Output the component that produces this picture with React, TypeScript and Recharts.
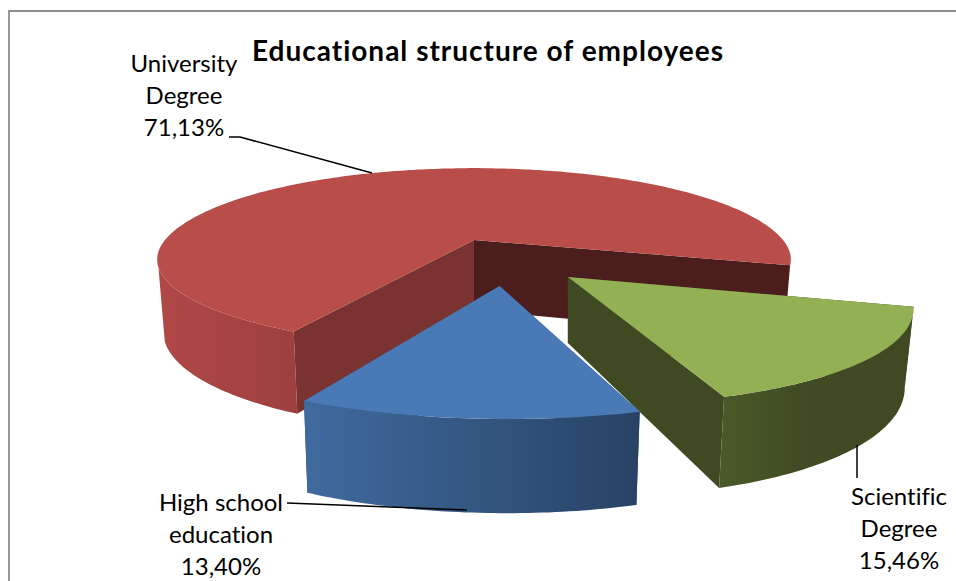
import { PieChart, Pie } from 'recharts';

const TITLE = 'Educational structure of employees';
const CATEGORIES = ['University Degree', 'Scientific Degree', 'High school education'];
const SHARES = [71.13, 15.46, 13.4];

// Tilted plate: TILT squashes the ground plane, PERSPECTIVE enlarges what is near the viewer
const WIDTH = 956;
const HEIGHT = 581;
const CX = 474;
const CY = 240;
const RADIUS = 309;
const TILT = 0.287;
const PERSPECTIVE = 0.234;
const FIRST_SLICE_ANGLE = -119.5;

const SLICE_STYLES = [
  { top: '#b84d4a', cut: ['#7b3331', '#4b1d1c'], wall: 'wallRed', offset: [0, 0], apexDepth: 70, scale: 1, flatten: 0.06 },
  { top: '#94b054', cut: ['#3f4a22', '#3f4a22'], wall: 'wallGreen', offset: [0.277, 0.38], apexDepth: 66, scale: 0.972, flatten: 0.06 },
  { top: '#4a7ab5', cut: ['#2d4a70', '#2d4a70'], wall: 'wallBlue', offset: [0.0735, 0.462], apexDepth: 74, scale: 1.01, flatten: 0.1 },
];

const LABEL_LINES = [['University', 'Degree'], ['Scientific', 'Degree'], ['High school', 'education']];
const LABEL_LAYOUT = [
  { x: 184, y: 72, leader: '229,137 240,137 372,173' },
  { x: 899, y: 505, leader: '857,445 857,478' },
  { x: 221, y: 511, leader: '287,503 467,510' },
];

const chartData = CATEGORIES.map((name, i) => ({ name, value: SHARES[i] }));
const FONT = 'Lato, sans-serif';

type Pt = { x: number; y: number };

function project(cx: number, cy: number, r: number, u: number, v: number): Pt {
  const w = 1 - PERSPECTIVE * v;
  return { x: cx + (r * u) / w, y: cy + (TILT * r * v) / w };
}

// Extrude a projected point downward; verticals converge slightly toward the plate centre
function drop(p: Pt, cx: number, cy: number, base: number): Pt {
  return { x: p.x - (p.x - cx) * 0.02, y: p.y + base + (p.y - cy) * 0.135 };
}

const toPath = (pts: Pt[]) =>
  'M' + pts.map((p) => `${p.x.toFixed(1)},${p.y.toFixed(1)}`).join('L') + 'Z';

function Slice3D(props: any) {
  const { cx, cy, outerRadius, startAngle, endAngle, index } = props;
  const style = SLICE_STYLES[index];
  const [ou, ov] = style.offset;
  const from = Math.min(-startAngle, -endAngle);
  const to = Math.max(-startAngle, -endAngle);

  const steps = Math.ceil(to - from);
  const rim: Pt[] = [];
  const facing: boolean[] = [];
  for (let i = 0; i <= steps; i++) {
    const t = ((from + ((to - from) * i) / steps) * Math.PI) / 180;
    const sin = Math.sin(t);
    const s = style.scale * (1 - style.flatten * Math.max(0, sin) ** 2);
    rim.push(project(cx, cy, outerRadius, ou + s * Math.cos(t), ov + s * sin));
    facing.push(sin > 0.27);
  }
  const apex = project(cx, cy, outerRadius, ou, ov);
  const apexLow = { x: apex.x, y: apex.y + style.apexDepth };
  const rimLow = rim.map((p) => drop(p, cx, cy, 70));

  // only the part of the outer wall turned toward the viewer is drawn
  const walls: string[] = [];
  let runStart = -1;
  for (let i = 0; i <= steps + 1; i++) {
    if (i <= steps && facing[i]) {
      if (runStart < 0) runStart = i;
    } else if (runStart >= 0) {
      walls.push(toPath([...rim.slice(runStart, i), ...rimLow.slice(runStart, i).reverse()]));
      runStart = -1;
    }
  }

  return (
    <g>
      <path d={toPath([apex, rim[0], rimLow[0], apexLow])} fill={style.cut[0]} />
      <path d={toPath([apex, rim[steps], rimLow[steps], apexLow])} fill={style.cut[1]} />
      {walls.map((d) => (
        <path key={d} d={d} fill={`url(#${style.wall})`} />
      ))}
      <path d={toPath([apex, ...rim])} fill={style.top} />
    </g>
  );
}

function SliceLabel(props: any) {
  const { index, value } = props;
  const layout = LABEL_LAYOUT[index];
  const lines = [...LABEL_LINES[index], `${value.toFixed(2).replace('.', ',')}%`];
  return (
    <g>
      <polyline points={layout.leader} fill="none" stroke="#000" strokeWidth={1.5} />
      <text
        x={layout.x}
        textAnchor="middle"
        fontFamily={FONT}
        fontSize={24}
        fill="#000"
        style={{ fontVariantLigatures: 'none' }}
      >
        {lines.map((line, i) => (
          <tspan key={line} x={layout.x} y={layout.y + i * 32}>{line}</tspan>
        ))}
      </text>
    </g>
  );
}

export default function App() {
  return (
    <div style={{ position: 'absolute', left: 0, top: 0, width: WIDTH, height: HEIGHT, overflow: 'hidden', background: '#fff' }}>
      <div style={{ position: 'absolute', left: 8, top: 10, width: WIDTH, height: HEIGHT, borderLeft: '2px solid #999', borderTop: '2px solid #8c8c8c' }} />
      <div style={{ position: 'absolute', left: 0, top: 0 }}>
        <PieChart width={WIDTH} height={HEIGHT} margin={{ top: 0, right: 0, bottom: 0, left: 0 }}>
          <defs>
            <linearGradient id="wallRed" gradientUnits="userSpaceOnUse" x1={158} x2={300} y1={0} y2={0}>
              <stop offset="0" stopColor="#b04846" />
              <stop offset="1" stopColor="#9c403e" />
            </linearGradient>
            <linearGradient id="wallGreen" gradientUnits="userSpaceOnUse" x1={720} x2={905} y1={0} y2={0}>
              <stop offset="0" stopColor="#4a5a29" />
              <stop offset="0.45" stopColor="#404b23" />
              <stop offset="1" stopColor="#3f4a22" />
            </linearGradient>
            <linearGradient id="wallBlue" gradientUnits="userSpaceOnUse" x1={302} x2={643} y1={0} y2={0}>
              <stop offset="0" stopColor="#406b9f" />
              <stop offset="1" stopColor="#274263" />
            </linearGradient>
          </defs>
          <text
            x={488}
            y={61}
            textAnchor="middle"
            fontFamily={FONT}
            fontSize={28}
            fontWeight={700}
            letterSpacing={1}
            fill="#000"
          >
            {TITLE}
          </text>
          <Pie
            data={chartData}
            dataKey="value"
            nameKey="name"
            cx={CX}
            cy={CY}
            innerRadius={0}
            outerRadius={RADIUS}
            startAngle={FIRST_SLICE_ANGLE}
            endAngle={FIRST_SLICE_ANGLE - 360}
            paddingAngle={0}
            stroke="none"
            shape={Slice3D}
            label={SliceLabel}
            labelLine={false}
            isAnimationActive={false}
          />
        </PieChart>
      </div>
    </div>
  );
}
